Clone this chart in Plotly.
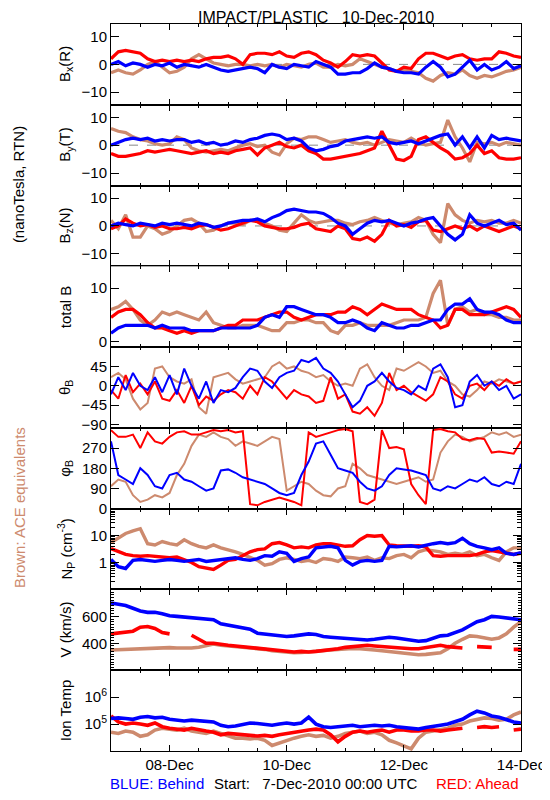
import pandas as pd
import plotly.graph_objects as go
from plotly.subplots import make_subplots

times = pd.date_range("2010-12-07 00:00", periods=57, freq="3h")

# ---- Bx (R) ----
bx_red = [2, 4.5, 5, 4.5, 4, 2, 1, 1.5, 1, 1.5, 1, 1.5, 1, 2, 2.5, 2.5, 3, 2, 0, 3.5, 4, 4, 3.5, 4.5, 3, 2.5, 4, 4.5, 3.5, 1.5,
          0.5, -1, 1, 3.5, 3, 3.5, 3, 0.5, -2, -2.5, -1, -1.5, 2, 4, 4, 3, 2, 3, 3.5, 2, 1.5, 2, 2, 4.5, 4, 3, 2.5]
bx_blue = [0, 1, -0.5, 0.5, 0, -1, 0, -0.5, 0.5, -1, 0, -0.5, -1, 0, -1, -2, -2.5, -2, -1.5, -1, -1.5, -3, 0, -1, -1.5, 0,
           -0.5, -1, 1, 0, -1, -3.5, -3.5, -3, -3, -1.5, 0.5, -1, -1.5, -2.5, -3, -3, -3.5, -1, 1, -1, -4.5, -3.5, -1, 1.5,
           -2, 0, -2, -1, 1, -1.5, -0.5]
bx_ace = [-3, -2, -3, -3.5, -2, 0, 1, -1, -3, -2.5, -1, 2, 3.5, 2, 0.5, 0, -0.5, 0, 0, -0.5, 0, -0.5, 0, -1, 0, -0.5, -1, 0,
          0.5, -1, -1, 0, -0.5, 0, 2, 1, 0, -1, -1.5, -2.5, -2, -2.5, -3, -5, -6, -4, -3, -3.5, -2, -4, -5, -4, -4.5, -3.5,
          -2.5, -2, -1]

# ---- By (T) ----
by_red = [-3, -4, -4, -3.5, -3, -2, -2.5, -2, -1.5, -2, -2.5, -3, -2.5, -2, -3, -2.5, -3, -2, -1.5, -1, -3.5, -1, 0, 1, -0.5,
          -1, 0, -2, -3, -5, -5, -4.5, -4, -3.5, -3, -2, -1, 5, 0, -5, -5.5, -4, 2, 3, 1, -1, -2.5, -5, -4.5, -3, 0, -3, -2,
          -4.5, -5, -5, -4.5]
by_blue = [0, 1, 2, 2.5, 2, 2.5, 1.5, 2, 1.5, 2, 2, 1, 1.5, 0.5, 1, 0, 0.5, 1.5, 1, 2, 2.5, 3.5, 4, 3.5, 2, 2.5, 1.5, -1, -2,
           -1.5, -0.5, 0, 1.5, 2, 2.5, 3, 2.5, 3, 1, 0.5, 1, 1.5, 0.5, 1.5, 2.5, 3.5, 4, 0, 3, -1, 3, -1, 3.5, 2, 2.5, 2, 1.5]
by_ace = [6, 5, 4.5, 3, 2, 1.5, 0.5, 0, 0.5, 3, 2, -1, -2, -2.5, -2, -1.5, -2, -1, 0, 0.5, -0.5, 0, -2.5, -3.5, 0.5, 2.5, 2,
          3, 3, 2, 1, 1.5, 2, 1, 0.5, 1, 0, 1, 2, 1.5, 1, 2.5, 1, 0, 0.5, 1, 9, 3, -1, -6, 1, 0.5, 1, 0, 1, 0.5, 0]

# ---- Bz (N) ----
bz_red = [-1, 0, 2.5, 1, 0, 0.5, -0.5, 0, -1, -1, -0.5, -1, 0, 0.5, -0.5, -1.5, -1, 0, 1, 2, 1.5, 0, -0.5, -1, -1, -0.5,
          0.5, 1, -1, -1.5, -2, 0, -1, -4.5, -5, -4, -5.5, -3, 2, 0, 0.5, -0.5, 1.5, 2, -1.5, -2, -1, 0, -1, 0, -1.5, 0, -1,
          -2, -1, 0, -1]
bz_blue = [0, 1, 0.5, 0, 1, 0.5, 0, 1, 0.5, 1, 0.5, 0, 1, 0.5, -0.5, 0, 1, 1.5, 2, 2, 2.5, 1.5, 3, 4, 5.5, 6, 5.5, 5, 5,
           4.5, 3, 1, 0, -3, -1, 1, 2, 1.5, 2, 1, 0, 1, 1.5, 2.5, 3, 0, -3, -5, -3, 4, 1, 0, 1, 2, 0.5, 1, -1.5]
bz_ace = [2, -1, 4, -4, -4, 0, -1, -3, -2, 0, 2, 2.5, 1, -2, -1.5, 0, 1, 1, 0.5, 2, 2, 1, 0, -1.5, -2, 1, 4, 2, 1, 1.5, 2,
          2, 1, 0.5, 1.5, 2, 3, 2, 1, 0.5, 1, 1.5, 3, 2, -3, -6, 8, 4, 2, 1, 2, 1.5, 2, 1, 1, 2, 1]

# ---- total B ----
bt_red = [4.5, 5.5, 6, 6, 5, 3.5, 2.5, 2.5, 2, 1.5, 2, 1.5, 2, 2, 2, 2.5, 3, 3, 4, 4, 4, 4.5, 5, 5.5, 5.5, 4.5, 4, 4.5, 5,
          5, 5, 5.5, 5.5, 6.5, 6, 5, 6, 7, 6.5, 6, 6, 6, 5, 4.5, 4, 2.5, 3, 6, 6, 5, 5, 5, 5.5, 6, 6.5, 6, 4.5]
bt_blue = [1.5, 2.5, 3, 3, 3, 3, 2.5, 3, 2.5, 2.5, 2.5, 2, 2, 2, 2, 2.5, 2.5, 2.5, 2.5, 2.5, 3, 4.5, 5, 4.5, 6.5, 6.5, 6,
           5.5, 5, 5, 4.5, 3.5, 3.5, 4, 3.5, 2.5, 2, 3.5, 3, 2.5, 2.5, 3, 3, 3.5, 4, 4, 6, 7, 7, 8, 6, 5.5, 5.5, 5, 4, 3.5, 3.5]
bt_ace = [6, 6.5, 7.5, 6, 4, 3, 4, 5.5, 5, 5.5, 5, 4.5, 4, 5.5, 3.5, 3, 2.5, 2.5, 3, 3, 3, 2.5, 2, 2, 3.5, 3.5, 4, 4, 3.5,
          3.5, 2, 1.5, 3, 3, 3.5, 3, 3, 3, 3, 3.5, 4, 4, 4, 4.5, 9, 11.5, 3, 6, 6.5, 5.5, 6, 5, 5, 4.5, 4.5, 4, 4]

# ---- theta_B (deg) ----
th_red = [-10, -30, 25, -15, 5, -20, 10, -30, -35, -10, -40, 0, -45, -25, -35, -20, -10, -15, -30, 0, -20, 20, 10, -10,
          -30, -10, -20, -25, -40, -35, 20, -30, -20, -60, -65, -50, -70, -40, 30, -10, 0, -15, -25, -35, -20, 20, 10, -20,
          -30, 0, 5, -10, 10, 0, 15, 5, 10]
th_blue = [-20, 20, -10, 30, 0, -10, 20, -15, 25, -20, 40, 0, -30, 10, -40, -10, -15, -5, 20, 40, 35, 10, -5, 20, 30, 35,
           60, 55, 65, 40, 30, 10, -20, -50, -35, 0, 10, 30, 10, -5, -10, -20, 0, -10, 40, 50, 20, -50, -45, 10, 25, 0, 10,
           -10, 0, -30, -20]
th_ace = [20, 30, 15, -30, -55, -40, 40, 45, 20, 10, 5, 15, -50, -65, 20, 25, 30, 15, 5, 10, 15, 20, 45, 55, 40, 45, 35,
          30, 20, 25, 10, 0, 5, 0, 40, 50, 20, 0, -10, 40, 35, 45, 55, 45, 30, 35, 10, 0, -20, -25, -10, 10, 5, 15, 10, 5, 10]

# ---- phi_B (deg) ----
ph_red = [350, 320, 320, 330, 270, 340, 300, 290, 320, 340, 345, 330, 330, 340, 350, 345, 350, 340, 345, 20, 15, 30, 40, 50,
          40, 30, 15, 340, 320, 330, 340, 350, 355, 345, 30, 20, 40, 350, 270, 275, 265, 110, 60, 20, 350, 355, 345, 340,
          310, 305, 315, 310, 250, 255, 250, 245, 300]
ph_blue = [300, 150, 130, 110, 180, 150, 100, 90, 150, 160, 130, 120, 100, 80, 90, 170, 175, 160, 140, 130, 120, 110, 90,
           70, 60, 70, 150, 210, 290, 300, 240, 180, 170, 160, 120, 90, 80, 100, 150, 180, 175, 170, 160, 150, 90, 80, 100,
           90, 110, 130, 120, 140, 110, 100, 120, 110, 200]
ph_ace = [100, 130, 120, 60, 30, 40, 60, 50, 70, 150, 200, 280, 330, 320, 340, 320, 310, 280, 300, 290, 280, 300, 320, 310,
          80, 100, 120, 110, 80, 60, 55, 90, 100, 200, 180, 150, 140, 130, 120, 110, 120, 130, 140, 120, 130, 250, 300, 330,
          320, 300, 310, 320, 340, 330, 340, 320, 330]

# ---- Np (cm^-3) ----
np_red = [3.3, 2.5, 2, 1.8, 1.7, 1.8, 1.7, 1.6, 1.5, 1.6, 1.3, 1, 0.7, 0.6, 0.55, 0.8, 1.2, 1.3, 1.8, 2.5, 3, 3.2, 5, 5.5,
          4.5, 3.5, 3.8, 3.5, 4.5, 5, 5, 4.5, 4, 4.2, 7, 10, 9.5, 10, 4.5, 4.2, 4, 4, 4.2, 3.8, 1.8, 1.7, 1.8, 1.8, 1.9,
          1.8, 2, 2.5, 2.8, 2.5, 2.2, 2, 2.2]
np_blue = [1.3, 0.7, 0.6, 1.2, 1.3, 1.2, 1.1, 1.2, 1.3, 1.2, 1.1, 1.2, 1.3, 1.1, 1.2, 1.3, 1.4, 1.5, 1.3, 1.2, 1.4, 1.8,
           1.7, 2.5, 2.2, 1.1, 1.4, 1.6, 3.5, 3.8, 4, 3.5, 1.2, 0.8, 1.1, 1.2, 1.1, 1.2, 4, 3.8, 4, 4.2, 3.8, 4.5, 5, 5.5,
           5, 5.5, 8, 5, 4, 3.5, 3, 3.5, 2.2, 2, 2.3]
np_ace = [5.5, 8, 12, 15, 18, 5, 4.5, 6, 5, 4.5, 7, 5, 4, 3.5, 4.5, 3.5, 3, 2.5, 2, 1.5, 1.2, 0.8, 0.9, 1.3, 1.5, 1.3,
          1.1, 1.2, 1.0, 1.4, 1.3, 1.1, 1.6, 1.5, 1.4, 1.6, 1.2, 1.5, 1.4, 1.8, 2, 1.5, 2.5, 3, 2.8, 2.5, 2, 2.2, 2, 2.5,
          1.8, 2, 1.5, 1.2, 2.5, 3.5, 3.5]

# ---- V (km/s) ----
v_red = [470, 475, 480, 490, 520, 525, 510, 480, 470, None, None, 460, 430, 400, 400, 390, 385, 380, 375, 370, 365, 360,
         350, 345, 340, 335, 340, 335, 340, 345, 350, 360, 370, 375, 385, 385, 380, 375, 370, 365, 365, 360, 360, 370,
         375, 385, 375, 370, 365, None, 375, 370, 370, None, None, 355, 355]
v_blue = [700, 690, 680, 660, 640, 630, 630, 620, 605, 600, 595, 590, 585, 580, 575, 545, 535, 525, 515, 505, 475, 470,
          460, 455, 450, 455, 465, 470, 465, 450, 445, 440, 435, 430, 430, 425, 430, 440, 445, 440, 430, 420, 415, 420,
          440, 455, 460, 480, 500, 530, 560, 575, 600, 595, 590, 585, 575]
v_ace = [350, 352, 355, 358, 360, 362, 365, 370, 368, 365, 362, 365, 370, 385, 395, 385, 380, 375, 372, 368, 362, 355,
         345, 338, 332, 330, 332, 335, 338, 342, 350, 355, 360, 362, 360, 358, 350, 345, 340, 335, 330, 320, 315, 318,
         322, 330, 360, 400, 430, 455, 450, 440, 430, 440, 470, 520, 560]

# ---- Ion Temp (K) ----
t_red = [2.0e5, 1.2e5, 1.0e5, 1.1e5, 1.0e5, 0.9e5, 1.1e5, 0.8e5, 0.7e5, 0.65e5, 0.6e5, 0.7e5, 0.6e5, 0.55e5, 0.5e5,
         0.4e5, 0.45e5, 0.42e5, 0.4e5, 0.38e5, 0.36e5, 0.38e5, 0.35e5, 0.4e5, 0.45e5, 0.5e5, 0.55e5, 0.6e5, 0.65e5,
         0.6e5, 0.4e5, 0.22e5, 0.35e5, 0.5e5, 0.55e5, 0.5e5, 0.55e5, 0.6e5, 0.5e5, 0.6e5, 0.6e5, 0.55e5, 0.55e5, 0.6e5,
         0.6e5, 0.55e5, 0.6e5, 0.65e5, 0.7e5, None, 0.75e5, 0.8e5, 0.75e5, 0.8e5, None, 0.6e5, 0.65e5]
t_blue = [1.6e5, 1.7e5, 1.6e5, 1.5e5, 1.8e5, 1.9e5, 1.7e5, 1.8e5, 1.5e5, 1.4e5, 1.3e5, 1.4e5, 1.3e5, 1.2e5, 1.2e5,
          0.9e5, 0.8e5, 0.85e5, 1.0e5, 1.1e5, 1.05e5, 1.0e5, 0.9e5, 1.0e5, 1.1e5, 1.0e5, 1.1e5, 1.8e5, 1.0e5, 0.8e5,
          0.75e5, 0.8e5, 0.85e5, 0.9e5, 0.8e5, 0.85e5, 0.9e5, 0.85e5, 0.9e5, 0.8e5, 0.75e5, 0.7e5, 0.65e5, 0.75e5,
          0.85e5, 0.9e5, 1.0e5, 1.2e5, 1.5e5, 2.2e5, 3.0e5, 2.6e5, 2.0e5, 1.8e5, 1.5e5, 1.2e5, 1.1e5]
t_ace = [0.5e5, 0.45e5, 0.55e5, 0.5e5, 0.35e5, 0.4e5, 0.6e5, 0.7e5, 0.65e5, 0.6e5, 0.7e5, 0.55e5, 0.5e5, 0.45e5, 0.55e5,
         0.45e5, 0.35e5, 0.3e5, 0.3e5, 0.28e5, 0.3e5, 0.25e5, 0.16e5, 0.2e5, 0.25e5, 0.3e5, 0.35e5, 0.4e5, 0.35e5,
         0.38e5, 0.3e5, 0.35e5, 0.45e5, 0.5e5, 0.55e5, 0.45e5, 0.5e5, 0.4e5, 0.25e5, 0.2e5, 0.15e5, 0.12e5, 0.3e5,
         0.5e5, 0.55e5, 0.6e5, 0.7e5, 0.9e5, 1.0e5, 1.3e5, 1.5e5, 1.7e5, 1.6e5, 1.4e5, 1.5e5, 2.2e5, 2.8e5]

panel_labels = ["B<sub>x</sub>(R)", "B<sub>y</sub>(T)", "B<sub>z</sub>(N)", "total B", "θ<sub>B</sub>",
                "φ<sub>B</sub>", "N<sub>P</sub> (cm<sup>-3</sup>)", "V (km/s)", "Ion Temp"]

RED = "#ff0000"
BLUE = "#0000ff"
BROWN = "#cd8a6e"
FONT = "Liberation Sans, Arial, sans-serif"

series = [
    (bx_ace, bx_red, bx_blue), (by_ace, by_red, by_blue), (bz_ace, bz_red, bz_blue),
    (bt_ace, bt_red, bt_blue), (th_ace, th_red, th_blue), (ph_ace, ph_red, ph_blue),
    (np_ace, np_red, np_blue), (v_ace, v_red, v_blue), (t_ace, t_red, t_blue),
]
widths = [3.2, 3.2, 3.2, 3.2, 2.0, 2.0, 3.4, 3.6, 3.6]

fig = make_subplots(rows=9, cols=1, shared_xaxes=True, vertical_spacing=0)

for i, (ace, red, blue) in enumerate(series, start=1):
    w = widths[i - 1]
    for vals, col in ((ace, BROWN), (red, RED), (blue, BLUE)):
        fig.add_trace(go.Scatter(x=times, y=vals, mode="lines", line=dict(color=col, width=w),
                                 showlegend=False, hoverinfo="skip"), row=i, col=1)

# zero reference lines for field components
for r in (1, 2, 3):
    fig.add_hline(y=0, row=r, col=1, line=dict(color="#888888", width=1, dash="dash"), layer="below")

yaxis_cfg = [
    dict(range=[-14.5, 14.5], tickvals=[-10, 0, 10]),
    dict(range=[-14.5, 14.5], tickvals=[-10, 0, 10]),
    dict(range=[-14.5, 14.5], tickvals=[-10, 0, 10]),
    dict(range=[-1.1, 14.1], tickvals=[0, 10]),
    dict(range=[-98, 90], tickvals=[-90, -45, 0, 45]),
    dict(range=[0, 360], tickvals=[0, 90, 180, 270]),
    dict(type="log", range=[-1, 2], tickvals=[1, 10], ticktext=["1", "10"],
         minor=dict(ticks="inside", ticklen=4, tickcolor="black",
                    tickvals=[0.2, 0.3, 0.4, 0.5, 0.6, 0.7, 0.8, 0.9, 2, 3, 4, 5, 6, 7, 8, 9,
                              20, 30, 40, 50, 60, 70, 80, 90])),
    dict(range=[200, 800], tickvals=[400, 600], minor=dict(dtick=20, ticklen=3, ticks="inside", tickcolor="black")),
    dict(type="log", range=[4, 7], tickvals=[1e5, 1e6], ticktext=["10<sup>5</sup>", "10<sup>6</sup>"]),
]

for i, cfg in enumerate(yaxis_cfg, start=1):
    fig.update_yaxes(row=i, col=1, showline=True, linecolor="black", linewidth=1, mirror="ticks",
                     ticks="inside", ticklen=8, tickcolor="black", showgrid=False, zeroline=False,
                     tickfont=dict(family=FONT, size=15, color="black"), **cfg)

fig.update_xaxes(range=["2010-12-07 00:00", "2010-12-14 00:00"], showline=True, linecolor="black", linewidth=1,
                 mirror="ticks", ticks="inside", ticklen=6, tickcolor="black", showgrid=False, zeroline=False,
                 dtick=2 * 86400000, tick0="2010-12-08", tickformat="%d-%b",
                 minor=dict(dtick=43200000, ticklen=3, ticks="inside", tickcolor="black"),
                 tickfont=dict(family=FONT, size=15, color="black"))

# the page adds an 8px body margin, so figure coordinates are offset by 8px from the screenshot
ML, MT, MR, MB = 103, 16, 32, 57
PW = 550 - ML - MR
PH = 800 - MT - MB

annotations = []
for i, lab in enumerate(panel_labels):
    ydom = fig.layout["yaxis" + ("" if i == 0 else str(i + 1))].domain
    annotations.append(dict(text=lab, textangle=-90, xref="paper", yref="paper", x=-46 / PW,
                            y=(ydom[0] + ydom[1]) / 2, showarrow=False, xanchor="center", yanchor="middle",
                            font=dict(family=FONT, size=15, color="black")))

annotations += [
    dict(text="IMPACT/PLASTIC   10-Dec-2010", xref="paper", yref="paper", x=0.5, y=1.0, yshift=-3,
         showarrow=False, xanchor="center", yanchor="bottom", borderpad=0,
         font=dict(family=FONT, size=16, color="black")),
    dict(text="(nanoTesla, RTN)", textangle=-90, xref="paper", yref="paper", x=-93 / PW,
         y=(751 - 185) / PH, showarrow=False, xanchor="center", yanchor="middle",
         font=dict(family=FONT, size=15, color="black")),
    dict(text="Brown: ACE equivalents", textangle=-90, xref="paper", yref="paper", x=-93 / PW,
         y=(751 - 508) / PH, showarrow=False, xanchor="center", yanchor="middle",
         font=dict(family=FONT, size=15, color=BROWN)),
    dict(text="BLUE: Behind", xref="paper", yref="paper", x=-3 / PW, y=0, yshift=-32, showarrow=False,
         xanchor="left", yanchor="middle", font=dict(family=FONT, size=15, color=BLUE)),
    dict(text="Start:   7-Dec-2010 00:00 UTC", xref="paper", yref="paper", x=(318 - 111) / PW, y=0, yshift=-32,
         showarrow=False, xanchor="center", yanchor="middle", font=dict(family=FONT, size=15, color="black")),
    dict(text="RED: Ahead", xref="paper", yref="paper", x=1.0, y=0, yshift=-32, showarrow=False,
         xanchor="right", yanchor="middle", font=dict(family=FONT, size=15, color=RED)),
]

fig.update_layout(width=550, height=800, margin=dict(l=ML, r=MR, t=MT, b=MB),
                  paper_bgcolor="white", plot_bgcolor="white", showlegend=False,
                  annotations=annotations, font=dict(family=FONT))

fig.write_html("out.html")
